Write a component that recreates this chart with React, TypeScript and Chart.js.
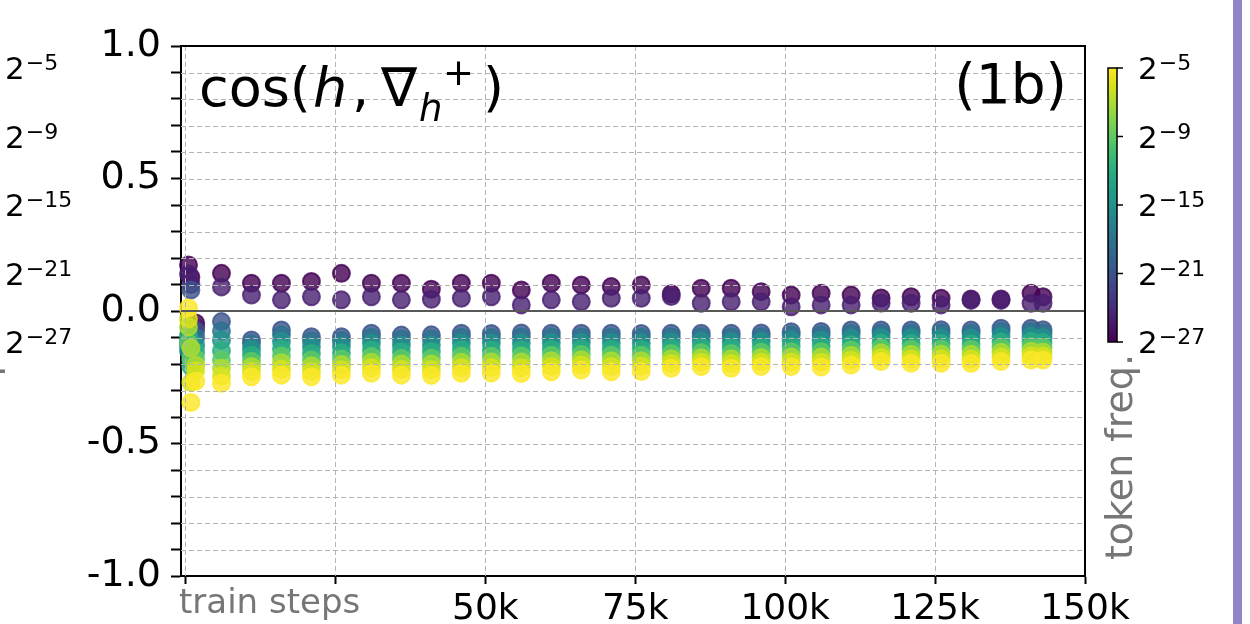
import React, { useEffect, useRef } from "react";
import { Chart, registerables } from "chart.js";

Chart.register(...registerables);

// Training steps (in thousands) at which the token-frequency bins were measured
const stepsK = [
  0.5, 0.9, 1.7, 6, 11, 16, 21, 26, 31, 36, 41, 46, 51, 56, 61, 66, 71, 76, 81,
  86, 91, 96, 101, 106, 111, 116, 121, 126, 131, 136, 141, 143,
];

// Token-frequency bins (log2 of frequency), rarest first
const freqExponents = [-27, -25, -21, -18, -15, -12, -9, -7, -6, -5];

// cos(h, grad_h+) per frequency bin, one value per step in stepsK
const cosBin0 = [
  0.174, 0.128, -0.045, 0.142, 0.105, 0.105, 0.111, 0.142, 0.105, 0.105, 0.082,
  0.105, 0.105, 0.079, 0.105, 0.098, 0.092, 0.098, 0.065, 0.086, 0.086, 0.073,
  0.06, 0.067, 0.06, 0.049, 0.054, 0.048, 0.045, 0.045, 0.067, 0.054,
];
const cosBin1 = [
  0.14, 0.1, -0.06, 0.091, 0.06, 0.042, 0.054, 0.042, 0.054, 0.042, 0.044,
  0.048, 0.054, 0.023, 0.042, 0.035, 0.048, 0.048, 0.055, 0.029, 0.035, 0.035,
  0.016, 0.023, 0.023, 0.03, 0.029, 0.023, 0.04, 0.04, 0.029, 0.029,
];
const cosBin2 = [
  -0.13, 0.079, -0.075, -0.04, -0.109, -0.072, -0.097, -0.097, -0.084, -0.091,
  -0.09, -0.084, -0.085, -0.083, -0.084, -0.084, -0.084, -0.085, -0.084, -0.084,
  -0.084, -0.083, -0.078, -0.077, -0.072, -0.072, -0.072, -0.071, -0.072,
  -0.065, -0.065, -0.071,
];
const cosBin3 = [
  -0.11, -0.16, -0.1, -0.075, -0.123, -0.09, -0.112, -0.111, -0.099, -0.106,
  -0.105, -0.099, -0.1, -0.098, -0.098, -0.098, -0.098, -0.099, -0.097, -0.096,
  -0.097, -0.096, -0.091, -0.09, -0.085, -0.084, -0.084, -0.083, -0.084,
  -0.077, -0.077, -0.083,
];
const cosBin4 = [
  -0.15, -0.19, -0.13, -0.11, -0.144, -0.115, -0.135, -0.133, -0.122, -0.129,
  -0.128, -0.121, -0.122, -0.121, -0.12, -0.119, -0.12, -0.121, -0.117, -0.115,
  -0.117, -0.115, -0.111, -0.11, -0.104, -0.101, -0.102, -0.102, -0.103,
  -0.096, -0.095, -0.1,
];
const cosBin5 = [
  -0.09, -0.21, -0.155, -0.15, -0.167, -0.143, -0.16, -0.158, -0.147, -0.154,
  -0.153, -0.146, -0.147, -0.146, -0.144, -0.142, -0.144, -0.144, -0.139,
  -0.136, -0.139, -0.136, -0.133, -0.132, -0.126, -0.121, -0.123, -0.123,
  -0.124, -0.117, -0.115, -0.119,
];
const cosBin6 = [
  -0.12, -0.18, -0.18, -0.185, -0.19, -0.17, -0.185, -0.181, -0.172, -0.179,
  -0.178, -0.171, -0.171, -0.17, -0.167, -0.164, -0.167, -0.167, -0.16, -0.157,
  -0.16, -0.156, -0.154, -0.154, -0.147, -0.14, -0.144, -0.143, -0.144,
  -0.137, -0.134, -0.138,
];
const cosBin7 = [
  -0.06, -0.14, -0.205, -0.215, -0.209, -0.195, -0.207, -0.202, -0.193, -0.2,
  -0.2, -0.193, -0.192, -0.192, -0.188, -0.184, -0.188, -0.188, -0.18, -0.176,
  -0.18, -0.175, -0.174, -0.174, -0.167, -0.158, -0.163, -0.162, -0.163,
  -0.156, -0.152, -0.155,
];
const cosBin8 = [
  -0.03, -0.27, -0.225, -0.245, -0.228, -0.22, -0.228, -0.222, -0.214, -0.221,
  -0.222, -0.214, -0.213, -0.214, -0.209, -0.204, -0.209, -0.208, -0.198,
  -0.193, -0.198, -0.193, -0.192, -0.193, -0.186, -0.175, -0.181, -0.18,
  -0.181, -0.174, -0.169, -0.17,
];
const cosBin9 = [
  0.011, -0.345, -0.265, -0.273, -0.248, -0.242, -0.248, -0.242, -0.235,
  -0.242, -0.243, -0.235, -0.234, -0.236, -0.229, -0.223, -0.229, -0.228,
  -0.216, -0.21, -0.216, -0.21, -0.21, -0.211, -0.204, -0.191, -0.197, -0.197,
  -0.198, -0.191, -0.185, -0.185,
];
const cosByBin = [
  cosBin0, cosBin1, cosBin2, cosBin3, cosBin4,
  cosBin5, cosBin6, cosBin7, cosBin8, cosBin9,
];

// Axis ticks and labels
const yTicks = [
  -1, -0.9, -0.8, -0.7, -0.6, -0.5, -0.4, -0.3, -0.2, -0.1, 0, 0.1, 0.2, 0.3,
  0.4, 0.5, 0.6, 0.7, 0.8, 0.9, 1,
];
const yLabelValues = [1, 0.5, 0, -0.5, -1];
const yLabels = ["1.0", "0.5", "0.0", "-0.5", "-1.0"];
const xTicks = [0, 25, 50, 75, 100, 125, 150];
const xLabels = ["", "", "50k", "75k", "100k", "125k", "150k"];

// Colour bar ticks (log2 frequency), drawn evenly spaced
const cbarExponents = [-27, -21, -15, -9, -5];
const cbarLabels = ["27", "21", "15", "9", "5"];

const VIRIDIS = [
  "#440154", "#48186a", "#472d7b", "#424086", "#3b528b", "#33638d", "#2c728e",
  "#26828e", "#21918c", "#1fa088", "#28ae80", "#3fbc73", "#5ec962", "#84d44b",
  "#addc30", "#d8e219", "#fde725",
];

function hexRgb(h: string) {
  return [1, 3, 5].map((i) => parseInt(h.slice(i, i + 2), 16));
}

function viridis(t: number, alpha = 1) {
  const c = Math.max(0, Math.min(1, t)) * (VIRIDIS.length - 1);
  const i = Math.min(Math.floor(c), VIRIDIS.length - 2);
  const f = c - i;
  const a = hexRgb(VIRIDIS[i]);
  const b = hexRgb(VIRIDIS[i + 1]);
  const m = a.map((v, k) => Math.round(v + (b[k] - v) * f));
  return `rgba(${m[0]},${m[1]},${m[2]},${alpha})`;
}

// Position of a log2 frequency on the colour bar (0 = bottom, 1 = top)
function cbarPos(e: number) {
  const n = cbarExponents.length - 1;
  for (let i = 0; i < n; i++) {
    const a = cbarExponents[i];
    const b = cbarExponents[i + 1];
    if (e <= b) return (i + (e - a) / (b - a)) / n;
  }
  return 1;
}

const FONT = '"DejaVu Sans", "Liberation Sans", sans-serif';
const GREY_TEXT = "#767676";

function drawPow(
  ctx: CanvasRenderingContext2D,
  x: number,
  yTick: number,
  exp: string
) {
  ctx.fillStyle = "#000";
  ctx.textAlign = "left";
  ctx.textBaseline = "alphabetic";
  ctx.font = `31px ${FONT}`;
  ctx.fillText("2", x, yTick + 11);
  const w = ctx.measureText("2").width;
  ctx.font = `22px ${FONT}`;
  ctx.fillText("\u2212" + exp, x + w + 1, yTick + 2);
}

function drawColorbar(
  ctx: CanvasRenderingContext2D,
  left: number,
  top: number,
  bottom: number,
  labelX: number,
  withBar: boolean
) {
  const n = cbarExponents.length - 1;
  if (withBar) {
    const g = ctx.createLinearGradient(0, bottom, 0, top);
    VIRIDIS.forEach((c, i) => g.addColorStop(i / (VIRIDIS.length - 1), c));
    ctx.fillStyle = g;
    ctx.fillRect(left, top, 9, bottom - top);
    ctx.strokeStyle = "#000";
    ctx.lineWidth = 1.5;
    ctx.strokeRect(left, top, 9, bottom - top);
  }
  cbarExponents.forEach((e, i) => {
    const y = bottom - ((bottom - top) * i) / n;
    if (withBar) {
      ctx.strokeStyle = "#000";
      ctx.lineWidth = 1.5;
      ctx.beginPath();
      ctx.moveTo(left + 9, y);
      ctx.lineTo(left + 15, y);
      ctx.stroke();
    }
    drawPow(ctx, labelX, y, cbarLabels[i]);
  });
}

function drawRotated(
  ctx: CanvasRenderingContext2D,
  text: string,
  cx: number,
  cy: number
) {
  ctx.save();
  ctx.translate(cx, cy);
  ctx.rotate(-Math.PI / 2);
  ctx.fillStyle = GREY_TEXT;
  ctx.font = `38px ${FONT}`;
  ctx.textAlign = "center";
  ctx.textBaseline = "middle";
  ctx.fillText(text, 0, 0);
  ctx.restore();
}

const decorations = {
  id: "decorations",
  beforeDraw(chart: any) {
    const ctx = chart.ctx as CanvasRenderingContext2D;
    ctx.save();
    ctx.fillStyle = "#fff";
    ctx.fillRect(0, 0, chart.width, chart.height);
    ctx.restore();
  },
  afterDatasetsDraw(chart: any) {
    const ctx = chart.ctx as CanvasRenderingContext2D;
    const a = chart.chartArea;
    const xs = chart.scales.x;
    const ys = chart.scales.y;
    ctx.save();
    // dashed grid over the markers
    ctx.strokeStyle = "#b4b4b4";
    ctx.lineWidth = 1;
    ctx.setLineDash([5, 3]);
    yTicks.forEach((v) => {
      if (Math.abs(v) > 0.95) return;
      const py = Math.round(ys.getPixelForValue(v)) + 0.5;
      ctx.beginPath();
      ctx.moveTo(a.left, py);
      ctx.lineTo(a.right, py);
      ctx.stroke();
    });
    xTicks.forEach((v) => {
      const px = Math.round(xs.getPixelForValue(v)) + 0.5;
      if (px > a.right - 2) return;
      ctx.beginPath();
      ctx.moveTo(px, a.top);
      ctx.lineTo(px, a.bottom);
      ctx.stroke();
    });
    ctx.setLineDash([]);
    // zero reference line
    const y0 = ys.getPixelForValue(0);
    ctx.strokeStyle = "#585858";
    ctx.lineWidth = 2;
    ctx.beginPath();
    ctx.moveTo(a.left, y0);
    ctx.lineTo(a.right, y0);
    ctx.stroke();
    // top and right spines
    ctx.strokeStyle = "#000";
    ctx.lineWidth = 2;
    ctx.beginPath();
    ctx.moveTo(a.left, a.top);
    ctx.lineTo(a.right, a.top);
    ctx.lineTo(a.right, a.bottom);
    ctx.stroke();
    ctx.restore();
  },
  afterDraw(chart: any) {
    const ctx = chart.ctx as CanvasRenderingContext2D;
    ctx.save();
    // panel title
    ctx.fillStyle = "#000";
    ctx.textBaseline = "alphabetic";
    ctx.textAlign = "left";
    const base = 106;
    ctx.font = `54px ${FONT}`;
    ctx.fillText("cos(", 199, base);
    ctx.font = `italic 54px ${FONT}`;
    ctx.fillText("h", 313, base);
    ctx.font = `54px ${FONT}`;
    ctx.fillText(",", 352, base);
    ctx.fillText("\u2207", 381, base);
    ctx.font = `italic 37px ${FONT}`;
    ctx.fillText("h", 419, base + 15);
    ctx.font = `37px ${FONT}`;
    ctx.fillText("+", 443, base - 21);
    ctx.font = `54px ${FONT}`;
    ctx.fillText(")", 483, base);
    ctx.textAlign = "right";
    ctx.font = `55px ${FONT}`;
    ctx.fillText("(1b)", 1067, 103);

    // x-axis caption
    ctx.textAlign = "left";
    ctx.fillStyle = GREY_TEXT;
    ctx.font = `34px ${FONT}`;
    ctx.fillText("train steps", 179, 613);

    // colour bars
    drawColorbar(ctx, 1108, 68, 342, 1138, true);
    drawColorbar(ctx, -25, 68, 342, 5, false);
    drawRotated(ctx, "token freq.", 1122, 457);
    drawRotated(ctx, "token freq.", -13, 457);

    // panel frame stripe
    ctx.fillStyle = "#9384c7";
    ctx.fillRect(1233, 0, 9, chart.height);
    ctx.restore();
  },
};

export default function App() {
  const ref = useRef<HTMLCanvasElement>(null);

  useEffect(() => {
    if (!ref.current) return;
    const datasets = freqExponents.map((e, b) => ({
      label: `2^${e}`,
      data: stepsK.map((s, i) => ({ x: s, y: cosByBin[b][i] })),
      backgroundColor: viridis(cbarPos(e), 0.8),
      borderColor: viridis(cbarPos(e), 0.8),
      pointRadius: 8.5,
      pointHoverRadius: 8.5,
      pointBorderWidth: 2,
      order: freqExponents.length - 1 - b,
      clip: false as any,
    }));

    const chart = new Chart(ref.current, {
      type: "scatter",
      data: { datasets },
      options: {
        responsive: false,
        animation: false,
        events: [],
        layout: { padding: { left: 0, top: 46, right: 165, bottom: 0 } },
        plugins: { legend: { display: false }, tooltip: { enabled: false } },
        scales: {
          x: {
            type: "linear",
            min: -0.75,
            max: 150,
            afterBuildTicks: (s: any) => {
              s.ticks = xTicks.map((v) => ({ value: v }));
            },
            afterFit: (s: any) => {
              s.height = 48;
            },
            ticks: {
              autoSkip: false,
              maxRotation: 0,
              padding: 4,
              color: "#000",
              font: { family: FONT, size: 36 },
              callback: (v: any) => {
                const i = xTicks.indexOf(Number(v));
                return i >= 0 ? xLabels[i] : "";
              },
            },
            grid: {
              drawOnChartArea: false,
              drawTicks: true,
              tickLength: 8,
              tickColor: "#000",
              tickWidth: 2,
            },
            border: { color: "#000", width: 2 },
          },
          y: {
            type: "linear",
            min: -1,
            max: 1,
            afterBuildTicks: (s: any) => {
              s.ticks = yTicks.map((v) => ({ value: v }));
            },
            afterFit: (s: any) => {
              s.width = 181;
            },
            ticks: {
              autoSkip: false,
              padding: 10,
              color: "#000",
              font: { family: FONT, size: 38 },
              callback: (v: any) => {
                const i = yLabelValues.findIndex(
                  (t) => Math.abs(t - Number(v)) < 1e-6
                );
                return i >= 0 ? yLabels[i] : "";
              },
            },
            grid: {
              drawOnChartArea: false,
              drawTicks: true,
              tickLength: 10,
              tickColor: "#000",
              tickWidth: 2,
            },
            border: { color: "#000", width: 2 },
          },
        },
      },
      plugins: [decorations],
    } as any);

    return () => chart.destroy();
  }, []);

  return (
    <div
      style={{
        position: "fixed",
        left: 0,
        top: 0,
        width: 1250,
        height: 624,
        overflow: "hidden",
        background: "#fff",
      }}
    >
      <canvas ref={ref} width={1250} height={624} style={{ display: "block" }} />
    </div>
  );
}
